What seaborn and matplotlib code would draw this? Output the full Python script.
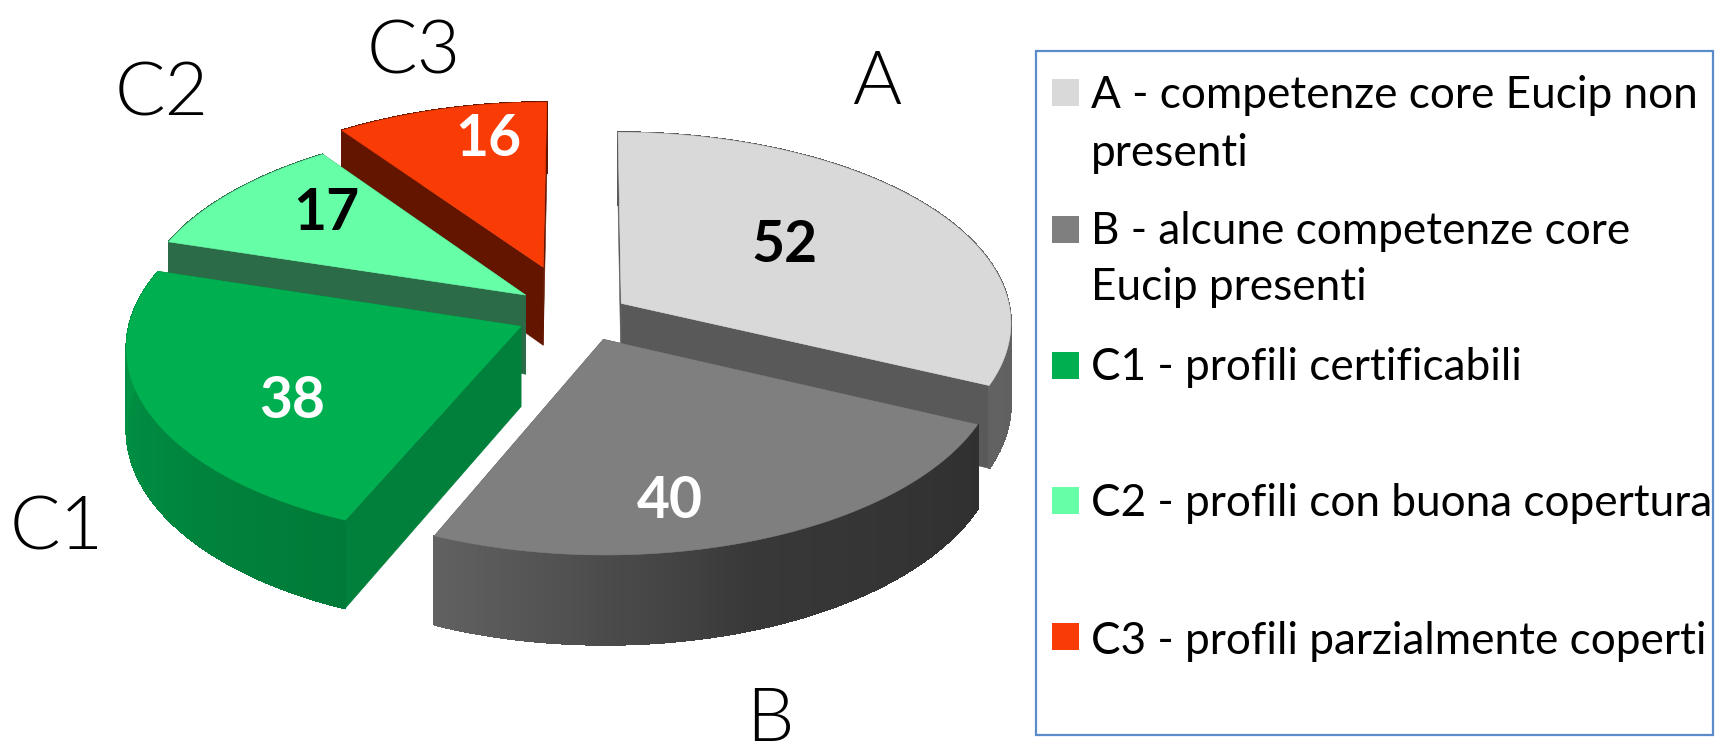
import numpy as np
import matplotlib
matplotlib.use("Agg")
import matplotlib.pyplot as plt
from matplotlib.patches import Polygon, Rectangle
from matplotlib import font_manager as fm
import seaborn as sns

# ---- data ----
categories = ["A", "B", "C1", "C2", "C3"]
values = [52, 40, 38, 17, 16]
legend_lines = [
    ["A - competenze core Eucip non", "presenti"],
    ["B - alcune competenze core", "Eucip presenti"],
    ["C1 - profili certificabili"],
    ["C2 - profili con buona copertura"],
    ["C3 - profili parzialmente coperti"],
]
top_colors = ["#D9D9D9", "#7F7F7F", "#00B050", "#66FFA8", "#F93C06"]
cut_colors = ["#595959", "#4A4A4A", "#00803A", "#2C6B48", "#631500"]
rim_start = ["#5A5A5A", "#303030", "#007A38", "#2C6B48", "#631500"]
rim_mid = ["#5E5E5E", "#383838", "#008A40", "#2C6B48", "#631500"]
rim_end = ["#626262", "#626262", "#009A47", "#2C6B48", "#631500"]
label_colors = ["black", "white", "white", "black", "white"]
explode = [0.115, 0.13, 0.172, 0.19, 0.285]
explode_turn = [3.0, 0, -6.5, 0, 5]

# ---- layout ----
FIG_W, FIG_H = 1716, 746
CX, CY, RX, RY, PERSP, DEPTH = 585, 316, 390, 190, 0.0967, 80
value_label_xy = [(785, 245), (670, 502), (292, 401), (326, 214), (488, 140)]
cat_label_xy = [(877, 104), (770, 741), (57, 549), (162, 115), (414, 73)]
legend_y = [[95, 153], [232, 288], [368], [503], [641]]
swatch_y = [92.5, 229.5, 365.5, 500, 636]

sns.set_theme(style="white")
plt.rcParams["font.family"] = ["Lato", "DejaVu Sans"]
palette = sns.color_palette(top_colors)

fig = plt.figure(figsize=(FIG_W / 100, FIG_H / 100), dpi=100)
ax = fig.add_axes([0, 0, 1, 1])
ax.set_xlim(0, FIG_W)
ax.set_ylim(FIG_H, 0)
ax.axis("off")


def project(X, Y):
    p = 1 / (1 + PERSP * Y)
    return CX + RX * X * p, CY - RY * Y * p, DEPTH * p


def slice_geometry(t0, t1, e, turn):
    mid = (t0 + t1) / 2 + np.radians(turn)
    ox, oy = e * np.cos(mid), e * np.sin(mid)
    th = np.linspace(t0, t1, 90)
    arc = np.array([project(ox + np.cos(a), oy + np.sin(a)) for a in th])
    tip = np.array(project(ox, oy))
    return arc, tip


fractions = np.array(values) / sum(values)
edges = np.pi / 2 - np.concatenate([[0], np.cumsum(fractions)]) * 2 * np.pi
geoms = [slice_geometry(edges[i], edges[i + 1], explode[i], explode_turn[i]) for i in range(len(values))]
rgb = matplotlib.colors.to_rgb


def draw_slice(i):
    arc, tip = geoms[i]
    z = 2 + draw_order.index(i)
    for end in (arc[0], arc[-1]):
        quad = [(tip[0], tip[1]), (end[0], end[1]),
                (end[0], end[1] + end[2]), (tip[0], tip[1] + tip[2])]
        ax.add_patch(Polygon(quad, closed=True, fc=cut_colors[i], ec=cut_colors[i], lw=0.4, zorder=z))
    c0, cm, c1 = np.array(rgb(rim_start[i])), np.array(rgb(rim_mid[i])), np.array(rgb(rim_end[i]))
    n = len(arc) - 1
    for j in range(n):
        a, b = arc[j], arc[j + 1]
        t = j / n
        col = c0 + (cm - c0) * t * 2 if t < 0.5 else cm + (c1 - cm) * (t - 0.5) * 2
        ax.add_patch(Polygon([(a[0], a[1]), (b[0], b[1]), (b[0], b[1] + b[2]), (a[0], a[1] + a[2])],
                             closed=True, fc=col, ec=col, lw=0.8, antialiased=False, zorder=z))
    pts = [(tip[0], tip[1])] + [(p[0], p[1]) for p in arc]
    ax.add_patch(Polygon(pts, closed=True, fc=palette[i], ec=palette[i], lw=0.4, zorder=z + 0.5))


draw_order = [0, 4, 3, 2, 1]
for i in draw_order:
    draw_slice(i)

for i, (x, y) in enumerate(value_label_xy):
    ax.text(x, y, str(values[i]), ha="center", va="center", fontsize=41, fontweight="bold",
            color=label_colors[i], zorder=20)
light = fm.FontProperties(family="Lato", weight=300, size=54)
for i, (x, y) in enumerate(cat_label_xy):
    ax.text(x, y, categories[i], ha="center", va="baseline", fontproperties=light,
            color="black", zorder=20)

# ---- legend box ----
ax.add_patch(Rectangle((1036, 51), 677, 684, fc="white", ec="#5B8BC9", lw=1.6, zorder=1))
for i, lines in enumerate(legend_lines):
    ax.add_patch(Rectangle((1052, swatch_y[i] - 13.5), 27, 27, fc=palette[i], ec="none", zorder=3))
    for line, y in zip(lines, legend_y[i]):
        ax.text(1091, y, line, ha="left", va="center", fontsize=31.8, color="black", zorder=3)

fig.savefig("out.png", dpi=100, facecolor="white")
